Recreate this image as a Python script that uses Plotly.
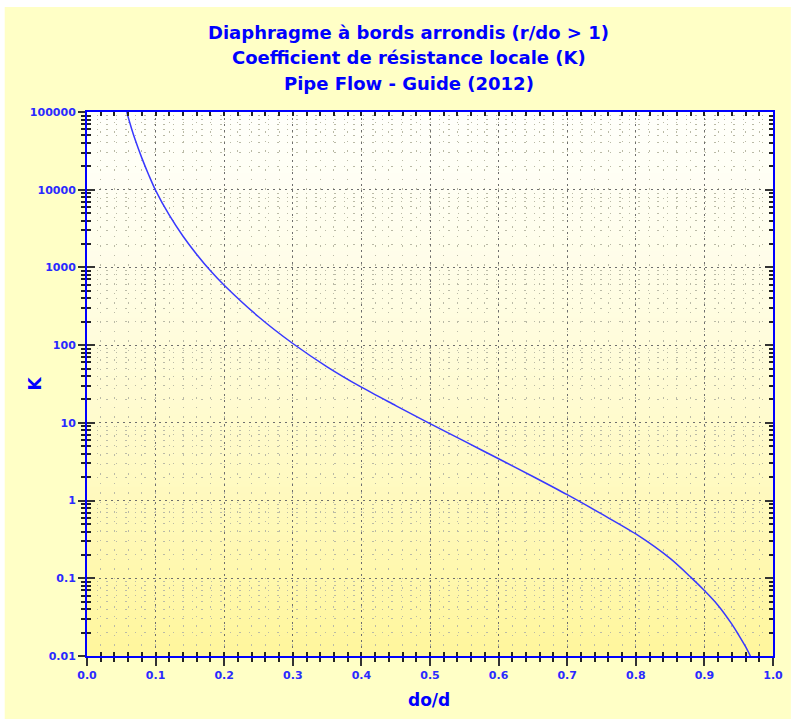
import plotly.graph_objects as go

# ---------------- data ----------------
title_lines = [
    "Diaphragme à bords arrondis (r/do > 1)",
    "Coefficient de résistance locale (K)",
    "Pipe Flow - Guide (2012)",
]
x_title = "do/d"
y_title = "K"

do_d = [0.058, 0.060, 0.065, 0.070, 0.080, 0.090, 0.100, 0.120, 0.140, 0.160,
        0.180, 0.200, 0.250, 0.300, 0.350, 0.400, 0.450, 0.500, 0.550, 0.600,
        0.650, 0.700, 0.750, 0.800, 0.850, 0.880, 0.900, 0.920, 0.940, 0.950,
        0.960, 0.967]
K = [100000, 86000, 61000, 44500, 25500, 15500, 9800, 4700, 2520, 1470,
     905, 590, 232, 105, 52.7, 28.8, 16.7, 9.77, 5.81, 3.45,
     2.04, 1.19, 0.673, 0.372, 0.18, 0.1035, 0.0695, 0.0447, 0.0257, 0.0186,
     0.0132, 0.01]

x_tickvals = [0.0, 0.1, 0.2, 0.3, 0.4, 0.5, 0.6, 0.7, 0.8, 0.9, 1.0]
x_ticktext = ["0.0", "0.1", "0.2", "0.3", "0.4", "0.5", "0.6", "0.7", "0.8", "0.9", "1.0"]
x_minor_vals = [round(i * 0.02, 2) for i in range(51)]

y_tickvals = [0.01, 0.1, 1, 10, 100, 1000, 10000, 100000]
y_ticktext = ["0.01", "0.1", "1", "10", "100", "1000", "10000", "100000"]
y_minor_vals = [m * 10.0 ** e for e in range(-2, 5) for m in range(2, 10)]

# ---------------- style ----------------
W, H = 795, 722
ML, MR, MT, MB = 87, 16, 112, 66
PW, PH = W - ML - MR, H - MT - MB
BLUE = "#0000FF"
LABEL_BLUE = "#2A2AFF"
FONT = "DejaVu Sans, Verdana, sans-serif"


def px_to_paper_x(px):
    return (px - ML) / PW


def px_to_paper_y(py):
    return (H - MB - py) / PH


fig = go.Figure()
fig.add_trace(go.Scatter(
    x=do_d, y=K, mode="lines",
    line=dict(color="#3838FF", width=1.5, shape="spline", smoothing=0.8),
    hoverinfo="x+y", showlegend=False,
))
# invisible trace to activate overlay axes (crossing ticks)
fig.add_trace(go.Scatter(
    x=do_d, y=K, xaxis="x2", yaxis="y2", mode="lines",
    line=dict(width=0, color="rgba(0,0,0,0)"), hoverinfo="skip", showlegend=False,
))

tick_font = dict(family=FONT, size=11, color=LABEL_BLUE, weight="bold")

common_x = dict(range=[0, 1], zeroline=False)
common_y = dict(type="log", range=[-2, 5], zeroline=False)

fig.update_layout(
    width=W, height=H,
    margin=dict(l=ML, r=MR, t=MT, b=MB, pad=0),
    paper_bgcolor="white",
    plot_bgcolor="rgba(0,0,0,0)",
    showlegend=False,
    xaxis=dict(
        **common_x,
        tickmode="array", tickvals=x_tickvals, ticktext=x_ticktext,
        ticks="outside", ticklen=8, tickwidth=2, tickcolor="#333333",
        tickfont=tick_font,
        showline=True, linecolor=BLUE, linewidth=2, mirror=True,
        showgrid=True, gridcolor="#6E6E6E", gridwidth=1, griddash="2px,4px",
        minor=dict(tickmode="array", tickvals=x_minor_vals,
                   ticks="outside", ticklen=4, tickwidth=1.5, tickcolor="#222222",
                   showgrid=True, gridcolor="#BABAA6", gridwidth=1, griddash="1.5px,8px"),
    ),
    yaxis=dict(
        **common_y,
        tickmode="array", tickvals=y_tickvals, ticktext=y_ticktext,
        ticks="outside", ticklen=7, tickwidth=2, tickcolor="#333333",
        tickfont=tick_font,
        showline=True, linecolor=BLUE, linewidth=2, mirror=True,
        showgrid=True, gridcolor="#6E6E6E", gridwidth=1, griddash="2px,4px",
        minor=dict(tickmode="array", tickvals=y_minor_vals,
                   ticks="outside", ticklen=4, tickwidth=1.5, tickcolor="#222222",
                   showgrid=True, gridcolor="#BABAA6", gridwidth=1, griddash="1.5px,8px"),
    ),
    xaxis2=dict(
        **common_x, overlaying="x", anchor="y", side="bottom",
        tickmode="array", tickvals=x_tickvals, ticktext=["" for _ in x_tickvals],
        ticks="inside", ticklen=8, tickwidth=2, tickcolor="#333333",
        showline=True, linecolor=BLUE, linewidth=2, mirror="ticks",
        showgrid=False,
        minor=dict(tickmode="array", tickvals=x_minor_vals,
                   ticks="inside", ticklen=4, tickwidth=1.5, tickcolor="#222222",
                   showgrid=False),
    ),
    yaxis2=dict(
        **common_y, overlaying="y", anchor="x", side="left",
        tickmode="array", tickvals=y_tickvals, ticktext=["" for _ in y_tickvals],
        ticks="inside", ticklen=8, tickwidth=2, tickcolor="#333333",
        showline=True, linecolor=BLUE, linewidth=2, mirror="ticks",
        showgrid=False,
        minor=dict(tickmode="array", tickvals=y_minor_vals,
                   ticks="inside", ticklen=4, tickwidth=1.5, tickcolor="#222222",
                   showgrid=False),
    ),
)

# ---------------- background panel + gradient ----------------
shapes = [dict(
    type="rect", xref="paper", yref="paper", layer="below",
    x0=px_to_paper_x(4), x1=px_to_paper_x(W + 2), y0=px_to_paper_y(719), y1=px_to_paper_y(7),
    fillcolor="#FFFFC6", line=dict(width=0),
)]
N = 90
top_c = (255, 255, 250)
bot_c = (255, 246, 156)
for i in range(N):
    t = (i + 0.5) / N  # 0 bottom -> 1 top
    f = (1 - t) ** 1.3
    c = tuple(round(top_c[k] + (bot_c[k] - top_c[k]) * f) for k in range(3))
    shapes.append(dict(
        type="rect", xref="x domain", yref="y domain", layer="below",
        x0=0, x1=1, y0=i / N, y1=(i + 1) / N + 0.002,
        fillcolor="rgb(%d,%d,%d)" % c, line=dict(width=0),
    ))
fig.update_layout(shapes=shapes)

# ---------------- texts ----------------
annotations = []
for line, py in zip(title_lines, [33, 58, 83]):
    annotations.append(dict(
        text="<b>%s</b>" % line, xref="paper", yref="paper",
        x=px_to_paper_x(411.5), y=px_to_paper_y(py), xanchor="center", yanchor="middle",
        showarrow=False, font=dict(family=FONT, size=18, color=BLUE),
    ))
annotations.append(dict(
    text="<b>%s</b>" % x_title, xref="paper", yref="paper",
    x=px_to_paper_x(432), y=px_to_paper_y(700), xanchor="center", yanchor="middle",
    showarrow=False, font=dict(family=FONT, size=17, color=BLUE),
))
annotations.append(dict(
    text="<b>%s</b>" % y_title, xref="paper", yref="paper",
    x=px_to_paper_x(35), y=px_to_paper_y(383), xanchor="center", yanchor="middle",
    textangle=-90, showarrow=False, font=dict(family=FONT, size=17, color=BLUE),
))
fig.update_layout(annotations=annotations)

fig.write_html(
    "out.html",
    config={"displayModeBar": False},
    post_script=(
        "document.body.style.margin='0';"
        "document.body.style.overflow='hidden';"
        "document.documentElement.style.overflow='hidden';"
    ),
)
